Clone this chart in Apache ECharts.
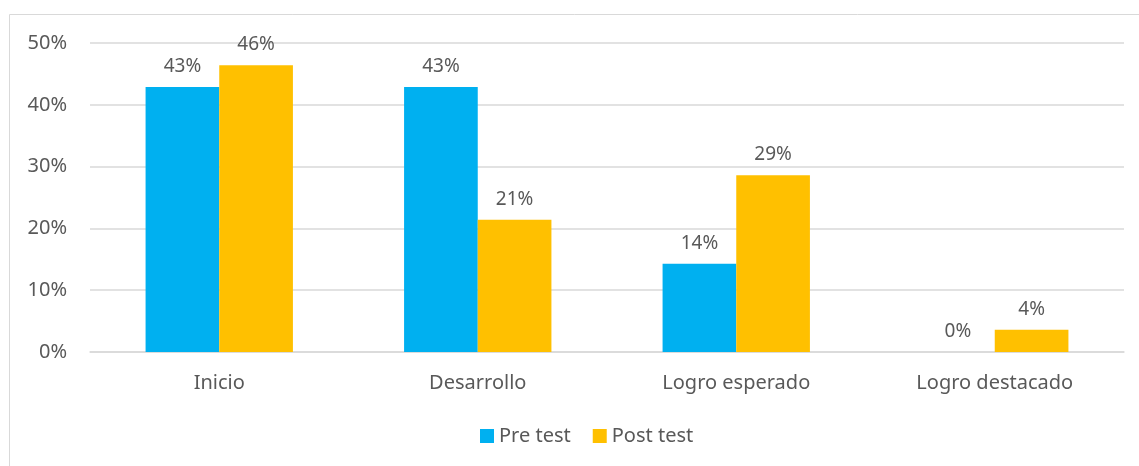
<!DOCTYPE html>
<html>
<head>
<meta charset="utf-8">
<script src="https://cdn.jsdelivr.net/npm/echarts@6/dist/echarts.min.js"></script>
<style>
  html, body { margin: 0; padding: 0; background: #fff; }
  #chart { width: 1139px; height: 466px; }
</style>
</head>
<body>
<div id="chart"></div>
<script>
const categories = ['Inicio', 'Desarrollo', 'Logro esperado', 'Logro destacado']
const preTest = [42.9, 42.9, 14.3, 0]
const postTest = [46.4, 21.4, 28.6, 3.6]

const chart = echarts.init(document.getElementById('chart'))
const font = 'Noto Sans'
const textColor = '#595959'

const labelOpt = {
  show: true,
  position: 'top',
  distance: 11,
  color: textColor,
  fontFamily: font,
  fontSize: 19,
  formatter: p => Math.round(p.value) + '%'
}

chart.setOption({
  animation: false,
  graphic: [{
    type: 'rect',
    shape: { x: 9.5, y: 14.5, width: 1140, height: 460 },
    style: { fill: 'none', stroke: '#d9d9d9', lineWidth: 1 }
  }],
  legend: {
    data: ['Pre test', 'Post test'],
    bottom: 15,
    left: 475,
    itemWidth: 14,
    itemHeight: 14,
    itemGap: 22,
    icon: 'rect',
    textStyle: { color: textColor, fontFamily: font, fontSize: 20 }
  },
  grid: { left: 90, right: 15, top: 43, bottom: 114 },
  xAxis: {
    type: 'category',
    data: categories,
    axisLine: { lineStyle: { color: '#d9d9d9', width: 1.5 } },
    axisTick: { show: false },
    axisLabel: { color: textColor, fontFamily: font, fontSize: 20, margin: 21 }
  },
  yAxis: {
    type: 'value',
    min: 0,
    max: 50,
    interval: 10,
    axisLine: { show: false },
    axisTick: { show: false },
    splitLine: { lineStyle: { color: '#d9d9d9', width: 1.5 } },
    axisLabel: { color: textColor, fontFamily: font, fontSize: 20, margin: 23, formatter: '{value}%' }
  },
  series: [
    {
      name: 'Pre test',
      type: 'bar',
      data: preTest,
      barGap: '0%',
      barCategoryGap: '43%',
      itemStyle: { color: '#00B0F0' },
      label: labelOpt
    },
    {
      name: 'Post test',
      type: 'bar',
      data: postTest,
      itemStyle: { color: '#FFC000' },
      label: labelOpt
    }
  ]
})
</script>
</body>
</html>
